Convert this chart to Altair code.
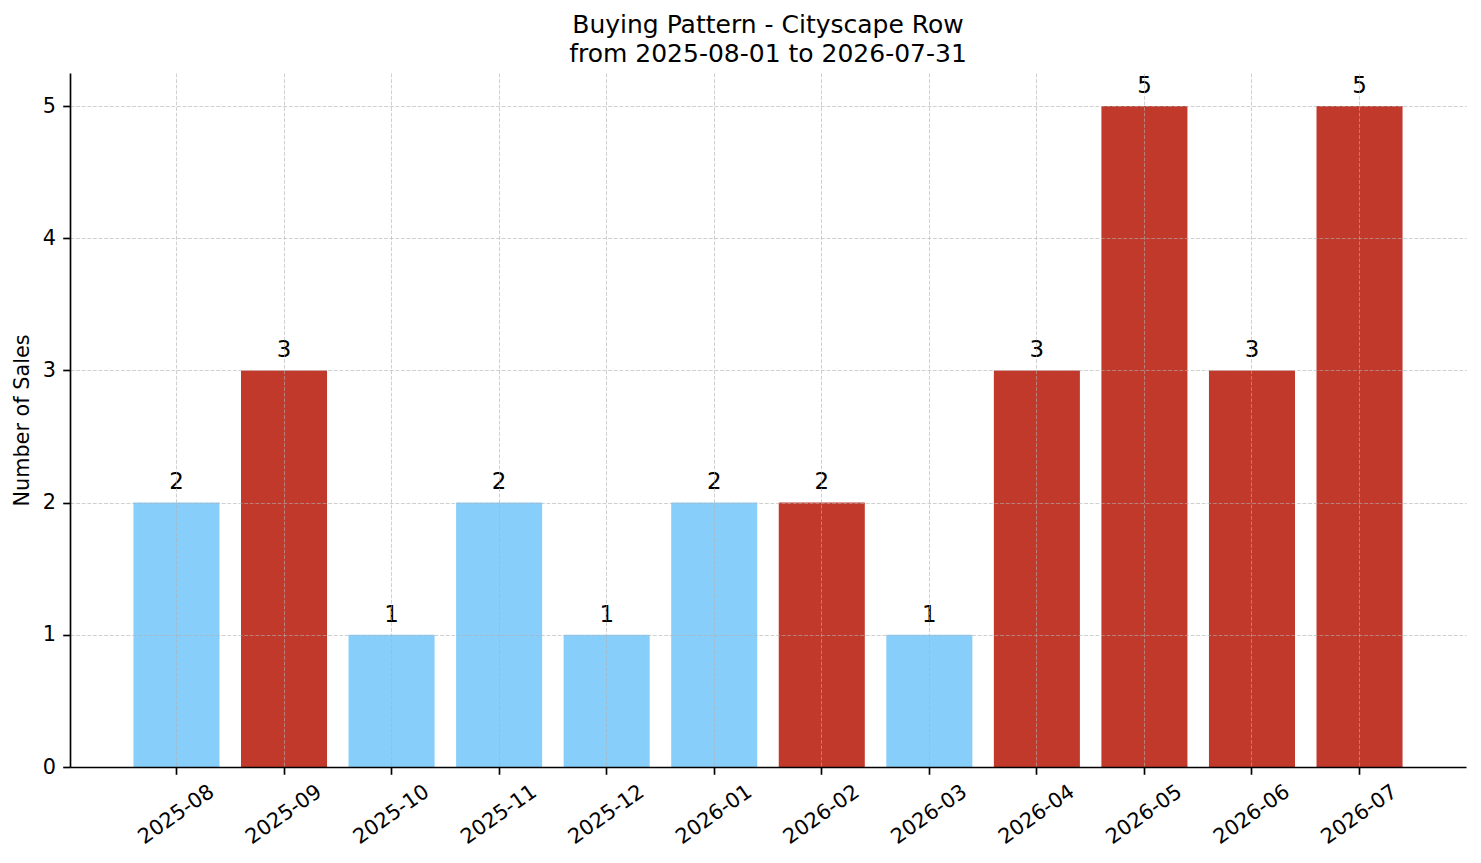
import pandas as pd
import altair as alt

# Data
months = ["2025-08", "2025-09", "2025-10", "2025-11", "2025-12", "2026-01",
          "2026-02", "2026-03", "2026-04", "2026-05", "2026-06", "2026-07"]
sales = [2, 3, 1, 2, 1, 2, 2, 1, 3, 5, 3, 5]
highlight = ["no", "yes", "no", "no", "no", "no",
             "yes", "no", "yes", "yes", "yes", "yes"]

df = pd.DataFrame({"Month": months, "Sales": sales, "Highlight": highlight})

FONT = "DejaVu Sans"

x_enc = alt.X(
    "Month:N",
    sort=months,
    title=None,
    scale=alt.Scale(paddingInner=0.2, paddingOuter=0.59),
    axis=alt.Axis(
        bandPosition=0.5,
        labelAngle=-35,
        labelAlign="center",
        labelBaseline="middle",
        labelPadding=40,
        grid=True,
        zindex=1,
    ),
)

bars = alt.Chart(df).mark_bar().encode(
    x=x_enc,
    y=alt.Y(
        "Sales:Q",
        title="Number of Sales",
        scale=alt.Scale(domain=[0, 5.25], nice=False),
        axis=alt.Axis(values=[0, 1, 2, 3, 4, 5], format="d", grid=True,
                      zindex=1, titlePadding=10),
    ),
    color=alt.Color(
        "Highlight:N",
        scale=alt.Scale(domain=["no", "yes"], range=["#87CEFA", "#C0392B"]),
        legend=None,
    ),
)

labels = alt.Chart(df).transform_calculate(
    ypos="datum.Sales + 0.1"
).mark_text(
    baseline="alphabetic", fontSize=22.9, font=FONT, color="black"
).encode(
    x=alt.X("Month:N", sort=months),
    y=alt.Y("ypos:Q"),
    text=alt.Text("Sales:Q"),
)

chart = alt.layer(bars, labels).properties(
    width=1396,
    height=694,
    autosize=alt.AutoSizeParams(type="none"),
    padding={"left": 62, "top": 65, "right": 7, "bottom": 88},
    title=alt.TitleParams(
        text=["Buying Pattern - Cityscape Row", "from 2025-08-01 to 2026-07-31"],
        fontSize=25,
        font=FONT,
        fontWeight="normal",
        color="black",
        anchor="middle",
        lineHeight=29,
        offset=6,
    ),
).configure_view(
    stroke="transparent"
).configure_axis(
    labelFont=FONT,
    titleFont=FONT,
    labelFontSize=20.8,
    titleFontSize=20.8,
    titleFontWeight="normal",
    labelColor="black",
    titleColor="black",
    domainColor="black",
    domainWidth=1.67,
    tickColor="black",
    tickWidth=1.67,
    tickSize=7.3,
    labelPadding=7.3,
    gridColor="#b0b0b0",
    gridOpacity=0.6,
    gridWidth=1,
    gridDash=[3.9, 1.7],
)

chart.save("out.html", embed_options={"renderer": "svg", "actions": False})
